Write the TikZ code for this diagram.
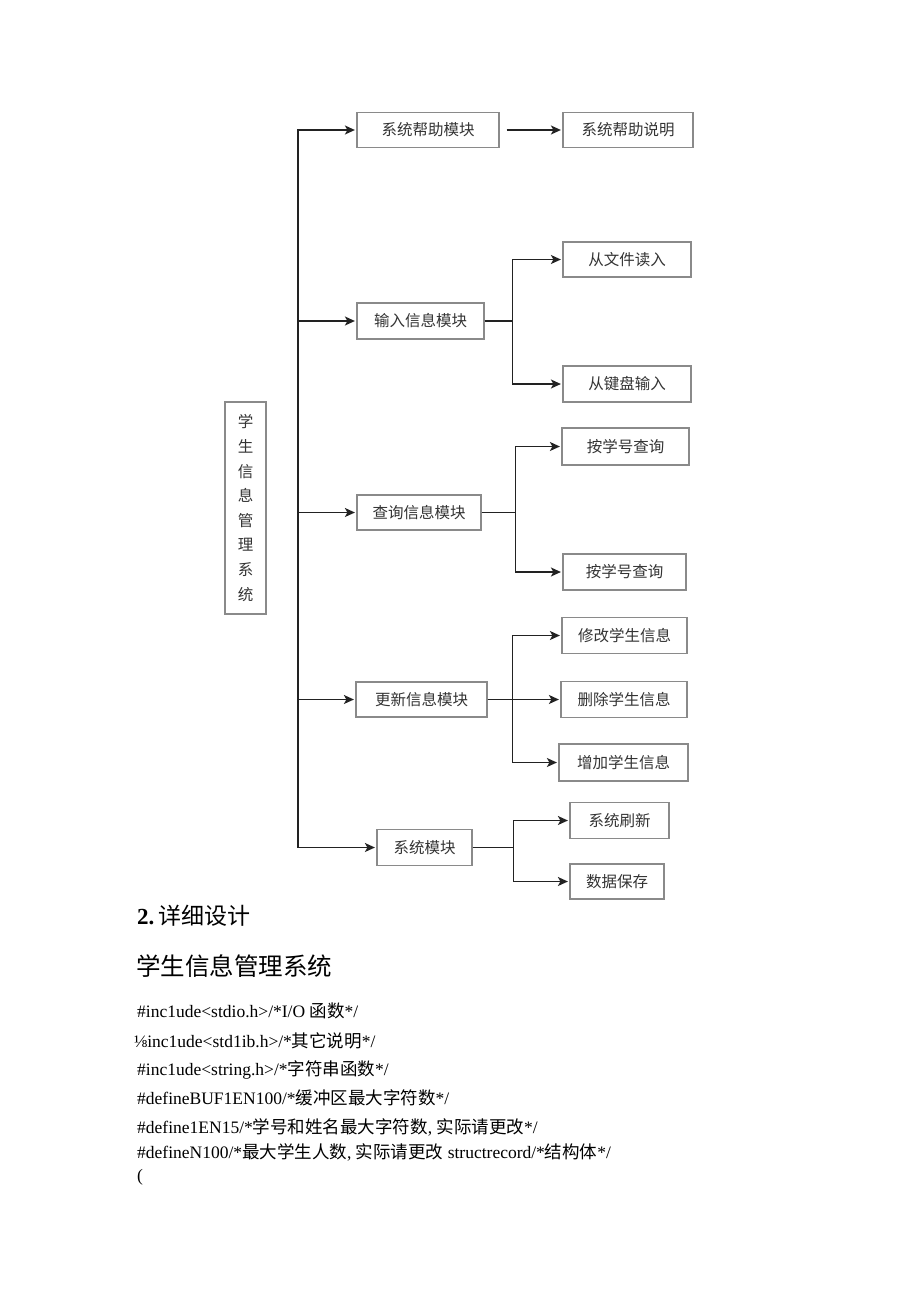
\documentclass[tikz,border=0pt]{standalone}
\usepackage{fontspec}
\setmainfont{Liberation Serif}
\newfontfamily\cjk{Noto Sans CJK SC}
\usetikzlibrary{arrows.meta}
\newcommand\zh[1]{{\cjk #1}}
\definecolor{boxgray}{HTML}{8A8A8A}
\definecolor{linecol}{HTML}{222222}
\begin{document}
\begin{tikzpicture}[x=1pt,y=-1pt,
  box/.style={draw=boxgray, line width=1.2pt, rectangle, inner sep=0pt, font=\cjk\fontsize{15.5}{18}\selectfont, text=black!80},
  arr/.style={draw=linecol, line width=1.6pt, -{Stealth[length=10pt,width=9pt,inset=2.5pt]}, shorten >=1.5pt},
  ln/.style={draw=linecol, line width=1.6pt, line cap=rect},
  code/.style={anchor=west, inner sep=0pt, font=\fontsize{17.5}{20}\selectfont}
]
\fill[white] (0,0) rectangle (920,1301);
\useasboundingbox (0,0) rectangle (920,1301);

% root
\node[box, minimum width=41pt, minimum height=212pt, align=center, font=\cjk\fontsize{15.5}{24.6}\selectfont] (root) at (245.5,508) {学\\生\\信\\息\\管\\理\\系\\统};

% modules
\node[box, minimum width=142pt, minimum height=35pt] (help) at (428,130) {系统帮助模块};
\node[box, minimum width=127pt, minimum height=36pt] (input) at (420.5,321) {输入信息模块};
\node[box, minimum width=124pt, minimum height=35pt] (query) at (419,512.5) {查询信息模块};
\node[box, minimum width=131pt, minimum height=35pt] (update) at (421.5,699.5) {更新信息模块};
\node[box, minimum width=95pt, minimum height=36pt] (sys) at (424.5,847.5) {系统模块};

% leaves
\node[box, minimum width=130pt, minimum height=35pt] (helpdesc) at (628,130) {系统帮助说明};
\node[box, minimum width=128pt, minimum height=35pt] (file) at (627,259.5) {从文件读入};
\node[box, minimum width=128pt, minimum height=36pt] (kbd) at (627,384) {从键盘输入};
\node[box, minimum width=127pt, minimum height=37pt] (q1) at (625.5,446.5) {按学号查询};
\node[box, minimum width=123pt, minimum height=36pt] (q2) at (624.5,572) {按学号查询};
\node[box, minimum width=125pt, minimum height=36pt] (mod) at (624.5,635.5) {修改学生信息};
\node[box, minimum width=126pt, minimum height=36pt] (del) at (624,699.5) {删除学生信息};
\node[box, minimum width=129pt, minimum height=37pt] (add) at (623.5,762.5) {增加学生信息};
\node[box, minimum width=99pt, minimum height=36pt] (refresh) at (619.5,820.5) {系统刷新};
\node[box, minimum width=94pt, minimum height=35pt] (save) at (617,881.5) {数据保存};

% trunk
\coordinate (tx) at (298,0);
\draw[ln] (tx |- help.west) -- (tx |- sys.west);
\foreach \m in {help,input,query,update,sys}{
  \draw[arr] (tx |- \m.west) -- (\m.west);
}

% branches
\draw[arr] ([xshift=7pt]help.east) -- (helpdesc.west);
\draw[arr] (input.east) -- ++(28,0) |- (file.west);
\draw[arr] (input.east) -- ++(28,0) |- (kbd.west);
\draw[arr] (query.east) -- ++(34,0) |- (q1.west);
\draw[arr] (query.east) -- ++(34,0) |- (q2.west);
\draw[arr] (update.east) -- ++(25,0) |- (mod.west);
\draw[arr] (update.east) -- (del.west);
\draw[arr] (update.east) -- ++(25,0) |- (add.west);
\draw[arr] (sys.east) -- ++(41,0) |- (refresh.west);
\draw[arr] (sys.east) -- ++(41,0) |- (save.west);

% text below
\node[anchor=west, inner sep=0pt, font=\fontsize{23}{26}\selectfont] (h2) at (137,916) {\textbf{2.}\,\zh{详细设计}};
\node[anchor=west, inner sep=0pt, font=\fontsize{24.5}{28}\selectfont] (h3) at (136,966) {\zh{学生信息管理系统}};
\node[code] (l1) at (137,1010.5) {\#inc1ude<stdio.h>/*I/O \zh{函数}*/};
\node[code] (l2) at (134,1040.5) {⅛inc1ude<std1ib.h>/*\zh{其它说明}*/};
\node[code] (l3) at (137,1069.5) {\#inc1ude<string.h>/*\zh{字符串函数}*/};
\node[code] (l4) at (137,1098) {\#defineBUF1EN100/*\zh{缓冲区最大字符数}*/};
\node[code] (l5) at (137,1127) {\#define1EN15/*\zh{学号和姓名最大字符数}, \zh{实际请更改}*/};
\node[code] (l6) at (137,1152) {\#defineN100/*\zh{最大学生人数}, \zh{实际请更改} structrecord/*\zh{结构体}*/};
\node[code] (l7) at (137,1177) {(};
\end{tikzpicture}
\end{document}
